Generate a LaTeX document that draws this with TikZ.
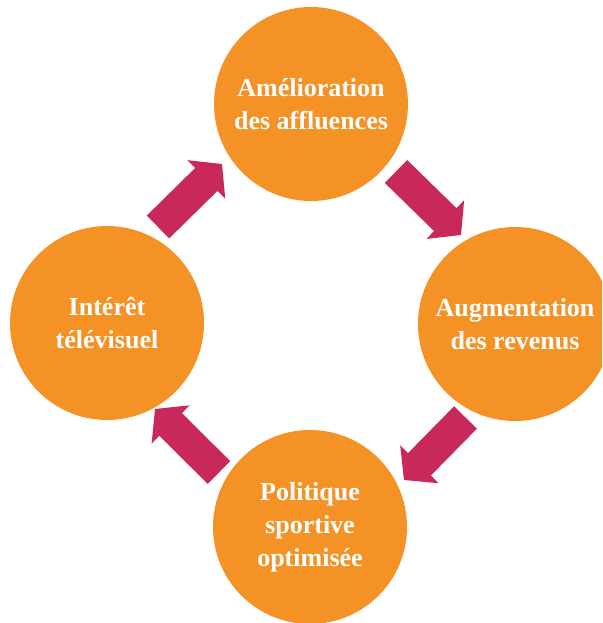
\documentclass[tikz,border=0pt]{standalone}
\usepackage{fontspec}
\setmainfont{Liberation Serif}
\usepackage{tikz}
\usetikzlibrary{calc}
\definecolor{cycleorange}{RGB}{244,146,38}
\definecolor{cyclered}{RGB}{201,40,90}
% block arrow from #1 to #2
\newcommand{\flowarrow}[2]{%
  \coordinate (#2base) at ($(#2)!22pt!(#1)$);
  \fill [cyclered] ($(#1)!16pt!90:(#2)$) -- ($(#2base)!16pt!-90:(#1)$)
    -- ($(#2base)!27pt!-90:(#1)$) -- (#2) -- ($(#2base)!27pt!90:(#1)$)
    -- ($(#2base)!16pt!90:(#1)$) -- ($(#1)!16pt!-90:(#2)$) -- cycle;}

\begin{document}
\begin{tikzpicture}[%
	x=1pt, y=1pt,
	stage/.style = {shape=circle, fill=cycleorange, text=white, minimum size=194pt, inner sep=0pt,
	  align=center, font=\fontsize{26}{33}\selectfont\bfseries}
	]
  \useasboundingbox (0,0) rectangle (602,623);
  \clip (0,0) rectangle (602,623);
  % the four stages of the cycle
  \node [stage] (affluences) at (311,519) {Amélioration\\des affluences};
  \node [stage] (revenus) at (515,299) {Augmentation\\des revenus};
  \node [stage] (politique) at (310,96) {Politique\\sportive\\optimisée};
  \node [stage] (tele) at (107,300) {Intérêt\\télévisuel};
  % arrow ends
  \coordinate (s1) at ($(tele)+(51,96)$);
  \coordinate (e1) at ($(affluences)+(-89,-60)$);
  \coordinate (s2) at ($(affluences)+(85,-67.5)$);
  \coordinate (e2) at ($(revenus)+(-54,89)$);
  \coordinate (s3) at ($(revenus)+(-49.5,-93.5)$);
  \coordinate (e3) at ($(politique)+(94,47)$);
  \coordinate (s4) at ($(politique)+(-91,54.5)$);
  \coordinate (e4) at ($(tele)+(48,-86)$);
  \flowarrow{s1}{e1}
  \flowarrow{s2}{e2}
  \flowarrow{s3}{e3}
  \flowarrow{s4}{e4}
\end{tikzpicture}
\end{document}
